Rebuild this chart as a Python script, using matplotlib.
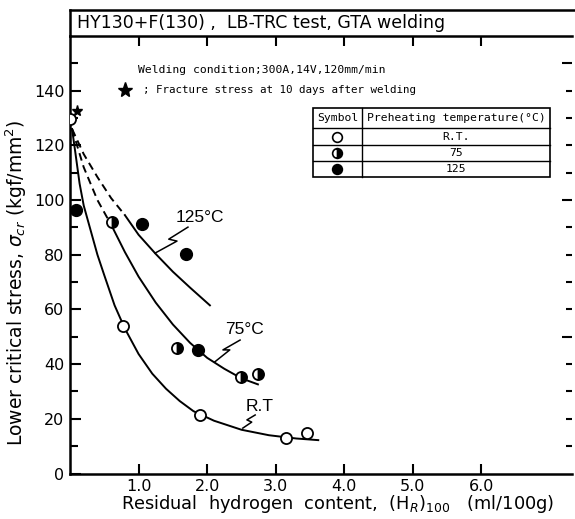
import matplotlib
matplotlib.use("Agg")
import matplotlib.pyplot as plt
from matplotlib.patches import Rectangle
from matplotlib.lines import Line2D

# ---------------- data ----------------
rt_x = [0.0, 0.77, 1.89, 3.15, 3.45]
rt_y = [129.5, 54.0, 21.5, 13.0, 14.8]
t75_x = [0.61, 1.56, 2.49, 2.74]
t75_y = [92.0, 46.0, 35.3, 36.4]
t125_x = [0.09, 1.05, 1.69, 1.87]
t125_y = [96.3, 91.2, 80.3, 45.2]
star_x = [0.10]
star_y = [132.5]

# fitted curves
rt_curve_x = [0.03, 0.08, 0.14, 0.2, 0.3, 0.4, 0.5, 0.65, 0.8, 1.0, 1.2, 1.4, 1.6, 1.8, 2.1, 2.5, 2.9, 3.3, 3.62]
rt_curve_y = [126, 117, 106, 98, 89, 80, 72.5, 61.5, 53, 43.7, 36.5, 31, 26.5, 22.8, 19.3, 16, 14, 12.8, 12.2]
c75_dash_x = [0.03, 0.2, 0.4, 0.61]
c75_dash_y = [126, 112, 100, 90.5]
c75_x = [0.61, 0.8, 1.0, 1.25, 1.5, 1.75, 2.0, 2.25, 2.5, 2.74]
c75_y = [90.5, 81, 72, 62.5, 54.5, 47.8, 42.3, 38.3, 34.8, 32.6]
c125_dash_x = [0.03, 0.2, 0.4, 0.6, 0.8]
c125_dash_y = [126, 116.8, 108.4, 100.7, 94.5]
c125_x = [0.8, 1.0, 1.25, 1.5, 1.75, 2.04]
c125_y = [94.5, 87.3, 80.3, 73.8, 68.0, 61.5]

xticks = [1, 2, 3, 4, 5, 6]
xticklabels = ["1.0", "2.0", "3.0", "4.0", "5.0", "6.0"]
yticks = [0, 20, 40, 60, 80, 100, 120, 140]

# ---------------- figure ----------------
W, H = 575, 519
fig = plt.figure(figsize=(W / 100, H / 100), dpi=100)
L, R, B, T = 70, 572, 473.5, 36
ax = fig.add_axes([L / W, (H - B) / H, (R - L) / W, (B - T) / H])
ax.set_xlim(0, 7.32)
ax.set_ylim(0, 160)

ax.spines["right"].set_visible(False)
for s in ["left", "bottom", "top"]:
    ax.spines[s].set_linewidth(1.8)

ax.set_xticks(xticks)
ax.set_xticklabels(xticklabels)
ax.set_yticks(yticks)
ax.set_yticks([10, 30, 50, 70, 90, 110, 130, 150], minor=True)
ax.tick_params(axis="both", which="major", direction="in", width=1.5, length=8,
               labelsize=11.5, pad=4)
ax.tick_params(axis="x", which="both", top=True, bottom=True, length=7)
ax.tick_params(axis="y", which="minor", direction="in", width=1.5, length=6)
ax.tick_params(axis="x", which="minor", bottom=False, top=False)

# right-hand tick marks
ax2 = ax.twinx()
ax2.set_ylim(0, 160)
for s in ax2.spines.values():
    s.set_visible(False)
ax2.set_yticks([50, 100, 150])
ax2.set_yticks([10, 20, 30, 40, 60, 70, 80, 90, 110, 120, 130, 140], minor=True)
ax2.tick_params(axis="y", which="major", direction="in", length=7, width=1.5, labelright=False)
ax2.tick_params(axis="y", which="minor", direction="in", length=4, width=1.5, labelright=False)

# curves
lw = 1.4
ax.plot(rt_curve_x, rt_curve_y, color="black", lw=lw)
ax.plot(c75_dash_x, c75_dash_y, color="black", lw=lw, ls=(0, (4, 2.5)))
ax.plot(c75_x, c75_y, color="black", lw=lw)
ax.plot(c125_dash_x, c125_dash_y, color="black", lw=lw, ls=(0, (4, 2.5)))
ax.plot(c125_x, c125_y, color="black", lw=lw)

# points
ms = 8
ax.plot(rt_x, rt_y, ls="none", marker="o", ms=ms, mfc="white", mec="black", mew=1.3, zorder=5)
ax.plot(t75_x, t75_y, ls="none", marker="o", ms=ms, fillstyle="right", mfc="black",
        mfcalt="white", mec="black", mew=1.3, zorder=5)
ax.plot(t125_x, t125_y, ls="none", marker="o", ms=ms + 0.5, mfc="black", mec="black", zorder=5)
ax.plot(star_x, star_y, ls="none", marker="*", ms=8, color="black", zorder=5)

# curve labels with zigzag leaders
labels = [
    ("125°C", 1.90, 93.6, [1.24, 1.56, 1.44, 1.72], [80.6, 85.0, 85.7, 90.1]),
    ("75°C", 2.55, 52.5, [2.11, 2.33, 2.23, 2.48], [40.8, 45.2, 45.2, 48.8]),
    ("R.T", 2.76, 24.6, [2.52, 2.65, 2.58, 2.70], [16.6, 18.8, 19.6, 21.4]),
]
for txt, tx, ty, lx, ly in labels:
    ax.text(tx, ty, txt, ha="center", va="center", fontsize=12.5, family="Liberation Sans")
    ax.plot(lx, ly, color="black", lw=1.1)

# annotations
mono = "DejaVu Sans Mono"
ax.text(0.99, 147.5, "Welding condition;300A,14V,120mm/min", family=mono,
        fontsize=8.2, va="center", ha="left")
ax.plot([0.80], [140.3], ls="none", marker="*", ms=11, color="black")
ax.text(1.06, 140.3, "; Fracture stress at 10 days after welding", family=mono,
        fontsize=7.8, va="center", ha="left")

# table
tx0, tx1, txm = 3.54, 7.0, 4.26
ty = [133.6, 126.3, 120.1, 114.3, 108.4]
ax.add_patch(Rectangle((tx0, ty[-1]), tx1 - tx0, ty[0] - ty[-1], fill=False, lw=1.2,
                       ec="black", zorder=3))
for yy in ty[1:-1]:
    ax.plot([tx0, tx1], [yy, yy], color="black", lw=1.0)
ax.plot([txm, txm], [ty[0], ty[-1]], color="black", lw=1.0)
ax.text((tx0 + txm) / 2, (ty[0] + ty[1]) / 2, "Symbol", family=mono, fontsize=8.2,
        ha="center", va="center")
ax.text((txm + tx1) / 2, (ty[0] + ty[1]) / 2, "Preheating temperature(°C)", family=mono,
        fontsize=8.2, ha="center", va="center")
row_labels = ["R.T.", "75", "125"]
styles = [dict(mfc="white", mec="black"),
          dict(fillstyle="right", mfc="black", mfcalt="white", mec="black"),
          dict(mfc="black", mec="black")]
for i, (lab, st) in enumerate(zip(row_labels, styles)):
    yc = (ty[i + 1] + ty[i + 2]) / 2
    ax.plot([(tx0 + txm) / 2], [yc], ls="none", marker="o", ms=7, mew=1.2, **st)
    ax.text((txm + tx1) / 2, yc, lab, family=mono, fontsize=8.2, ha="center", va="center")

# title box
fig.add_artist(Line2D([L / W, L / W], [(H - T) / H, (H - 10) / H], color="black", lw=1.8,
                      transform=fig.transFigure))
fig.add_artist(Line2D([L / W, 1.0], [(H - 10) / H, (H - 10) / H], color="black", lw=1.8,
                      transform=fig.transFigure))
fig.text(77 / W, (H - 23) / H, "HY130+F(130) ,  LB-TRC test, GTA welding", fontsize=12.5,
         ha="left", va="center")

# axis labels
ax.set_ylabel("Lower critical stress, $\\sigma_{cr}$ (kgf/mm$^2$)", fontsize=13.5)
ax.yaxis.set_label_coords((29 - L) / (R - L), (B - 283) / (B - T))
ax.set_xlabel("Residual  hydrogen  content,  (H$_R$)$_{100}$   (ml/100g)", fontsize=12.8)
ax.xaxis.set_label_coords((338 - L) / (R - L), (B - 493) / (B - T))

fig.savefig("out.png", dpi=100)
